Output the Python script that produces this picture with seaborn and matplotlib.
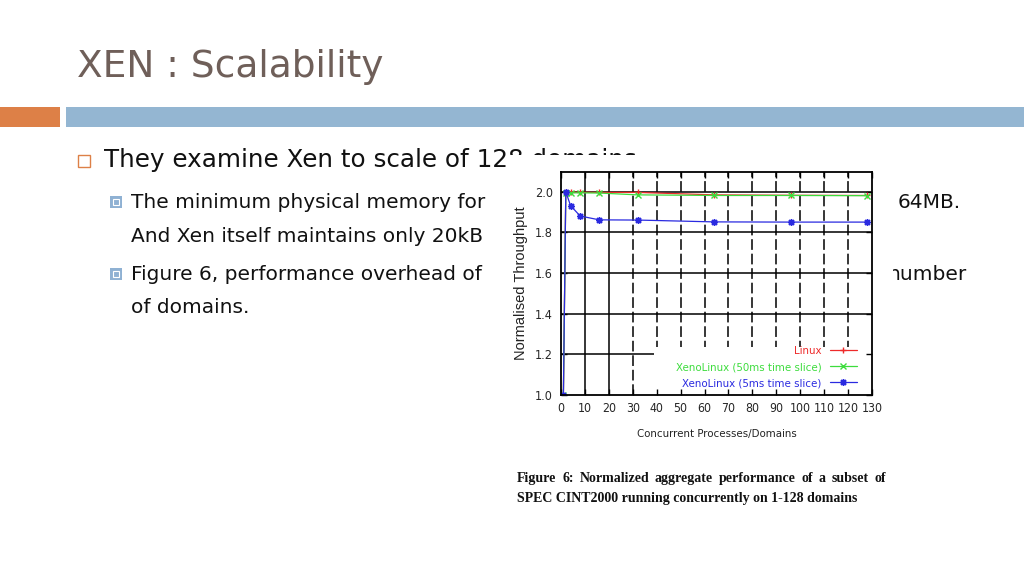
import matplotlib
matplotlib.use("Agg")
import matplotlib.pyplot as plt
from matplotlib.patches import Rectangle
import seaborn as sns
import pandas as pd

# ---------------- data ----------------
domains = [1, 2, 4, 8, 16, 32, 64, 96, 128]
linux = [1.0, 2.0, 1.998, 1.998, 1.997, 1.997, 1.985, 1.983, 1.982]
xeno_50ms = [1.0, 1.995, 1.995, 1.995, 1.994, 1.985, 1.982, 1.982, 1.981]
xeno_5ms = [1.0, 2.0, 1.932, 1.881, 1.862, 1.861, 1.852, 1.851, 1.851]
series_names = ["Linux", "XenoLinux (50ms time slice)", "XenoLinux (5ms time slice)"]
x_ticks = [0, 10, 20, 30, 40, 50, 60, 70, 80, 90, 100, 110, 120, 130]
y_ticks = [1.0, 1.2, 1.4, 1.6, 1.8, 2.0]

title = "XEN : Scalability"
bullet1 = "They examine Xen to scale of 128 domains."
sub1a = "The minimum physical memory for"
sub1b = "64MB."
sub1c = "And Xen itself maintains only 20kB"
sub2a = "Figure 6, performance overhead of"
sub2b = "number"
sub2c = "of domains."
caption1 = "Figure 6:  Normalized aggregate performance of a subset of"
caption2 = "SPEC CINT2000 running concurrently on 1-128 domains"

sns.set_theme(style="white")
plt.rcParams["font.family"] = ["DejaVu Sans"]

fig = plt.figure(figsize=(10.24, 5.76), dpi=100)
fig.patch.set_facecolor("white")

# ---------------- slide background (pixel coords) ----------------
bg = fig.add_axes([0, 0, 1, 1])
bg.set_xlim(0, 1024)
bg.set_ylim(576, 0)
bg.axis("off")
bg.set_zorder(0)

bg.text(77, 77, title, fontsize=27, color="#6f5f59", va="baseline", ha="left")
bg.add_patch(Rectangle((0, 107), 60, 20, fc="#DD8047", ec="none"))
bg.add_patch(Rectangle((66, 107), 958, 20, fc="#94B6D2", ec="none"))

txt_col = "#111111"
bg.add_patch(Rectangle((78, 154.5), 12, 12, fill=False, ec="#DD8047", lw=1.0, zorder=3))
bg.text(104, 167, bullet1, fontsize=17.7, color=txt_col, va="baseline", zorder=3)

for yy in (196, 268):
    bg.add_patch(Rectangle((110, yy), 12, 12, fc="#8FB1D3", ec="none", zorder=3))
    bg.add_patch(Rectangle((113, yy + 3), 6, 6, fill=False, ec="white", lw=0.8, zorder=3))

sub_fs = 14.5
bg.text(131, 208, sub1a, fontsize=sub_fs, color=txt_col, va="baseline", zorder=3)
bg.text(898, 208, sub1b, fontsize=sub_fs, color=txt_col, va="baseline", zorder=3)
bg.text(131, 242, sub1c, fontsize=sub_fs, color=txt_col, va="baseline", zorder=3)
bg.text(131, 280, sub2a, fontsize=sub_fs, color=txt_col, va="baseline", zorder=3)
bg.text(887, 280, sub2b, fontsize=sub_fs, color=txt_col, va="baseline", zorder=3)
bg.text(131, 313, sub2c, fontsize=sub_fs, color=txt_col, va="baseline", zorder=3)

# white area of the pasted figure
bg.add_patch(Rectangle((507, 155), 386, 365, fc="white", ec="none", zorder=5))

# caption (line 1 justified)
cap_fs = 10
cap_font = ["Liberation Serif", "DejaVu Serif"]
renderer = fig.canvas.get_renderer()
words = caption1.split()
objs = [bg.text(0, 482, w, fontsize=cap_fs, fontweight="bold", family=cap_font,
                color="#111111", va="baseline", zorder=6) for w in words]
widths = [o.get_window_extent(renderer=renderer).width for o in objs]
left, right = 517, 886
gap = (right - left - sum(widths)) / (len(words) - 1)
xpos = left
for o, w in zip(objs, widths):
    o.set_x(xpos)
    xpos += w + gap
bg.text(517, 502, caption2, fontsize=cap_fs, fontweight="bold", family=cap_font,
        color="#111111", va="baseline", zorder=6)

# ---------------- chart ----------------
L, R, B, T = 561, 872, 395, 171.5
ax = fig.add_axes([L / 1024, 1 - B / 576, (R - L) / 1024, (B - T) / 576])
ax.set_zorder(2)
ax.set_facecolor("white")

narrow = ["DejaVu Sans"]
colors = ["#ee2a2a", "#3ddc3d", "#2a2ae0"]
markers = ["+", "x", (8, 2, 0)]
values = [linux, xeno_50ms, xeno_5ms]

ax.set_xlim(0, 130)
ax.set_ylim(1.0, 2.1)

# grid lines
for xv in x_ticks[1:-1]:
    ls = "-" if xv in (10, 20) else (0, (7, 2.5))
    ax.axvline(xv, color="black", lw=1.1, ls=ls, zorder=1)
for yv in y_ticks[1:]:
    ax.axhline(yv, color="black", lw=1.1, zorder=1)

# legend background
ax.add_patch(Rectangle((0.30, 0.0), 0.70, 0.215, transform=ax.transAxes,
                       fc="white", ec="none", zorder=1.5))

for name, vals, c, m in zip(series_names, values, colors, markers):
    df = pd.DataFrame({"x": domains, "y": vals})
    sns.lineplot(data=df, x="x", y="y", ax=ax, color=c, lw=0.9, marker=m,
                 markersize=5, markeredgewidth=1.0, markeredgecolor=c,
                 label=name, estimator=None, zorder=3)

ax.set_xticks(x_ticks)
ax.set_yticks(y_ticks)
ax.set_xticklabels([str(v) for v in x_ticks], family=narrow, fontstretch="condensed", fontsize=8.8)
ax.set_yticklabels([f"{v:.1f}" for v in y_ticks], family=narrow, fontstretch="condensed", fontsize=9)
ax.tick_params(direction="in", length=4, width=1, color="black",
               top=True, right=True, bottom=True, left=True, pad=5)
ax.tick_params(axis="y", pad=6)
ax.set_axisbelow(False)
for s in ax.spines.values():
    s.set_color("black")
    s.set_linewidth(1.3)
    s.set_zorder(4)

ax.set_xlabel("Concurrent Processes/Domains", family=narrow, fontstretch="condensed",
              fontsize=8.2, color="#222")
ax.set_ylabel("Normalised Throughput", family=["Liberation Sans", "DejaVu Sans"],
              fontsize=10.5, color="#222")
ax.xaxis.set_label_coords(0.5, -0.15)
ax.yaxis.set_label_coords(-0.105, 0.5)

handles, labels = ax.get_legend_handles_labels()
leg = ax.legend(handles, labels, loc="lower right", bbox_to_anchor=(0.965, 0.012),
                borderaxespad=0, borderpad=0.35, frameon=False, markerfirst=False,
                labelcolor=colors,
                prop={"family": narrow, "stretch": "condensed", "size": 8.2},
                handlelength=2.4, handletextpad=0.7, labelspacing=0.55)
leg.set_zorder(6)

fig.savefig("out.png", dpi=100, facecolor="white")
